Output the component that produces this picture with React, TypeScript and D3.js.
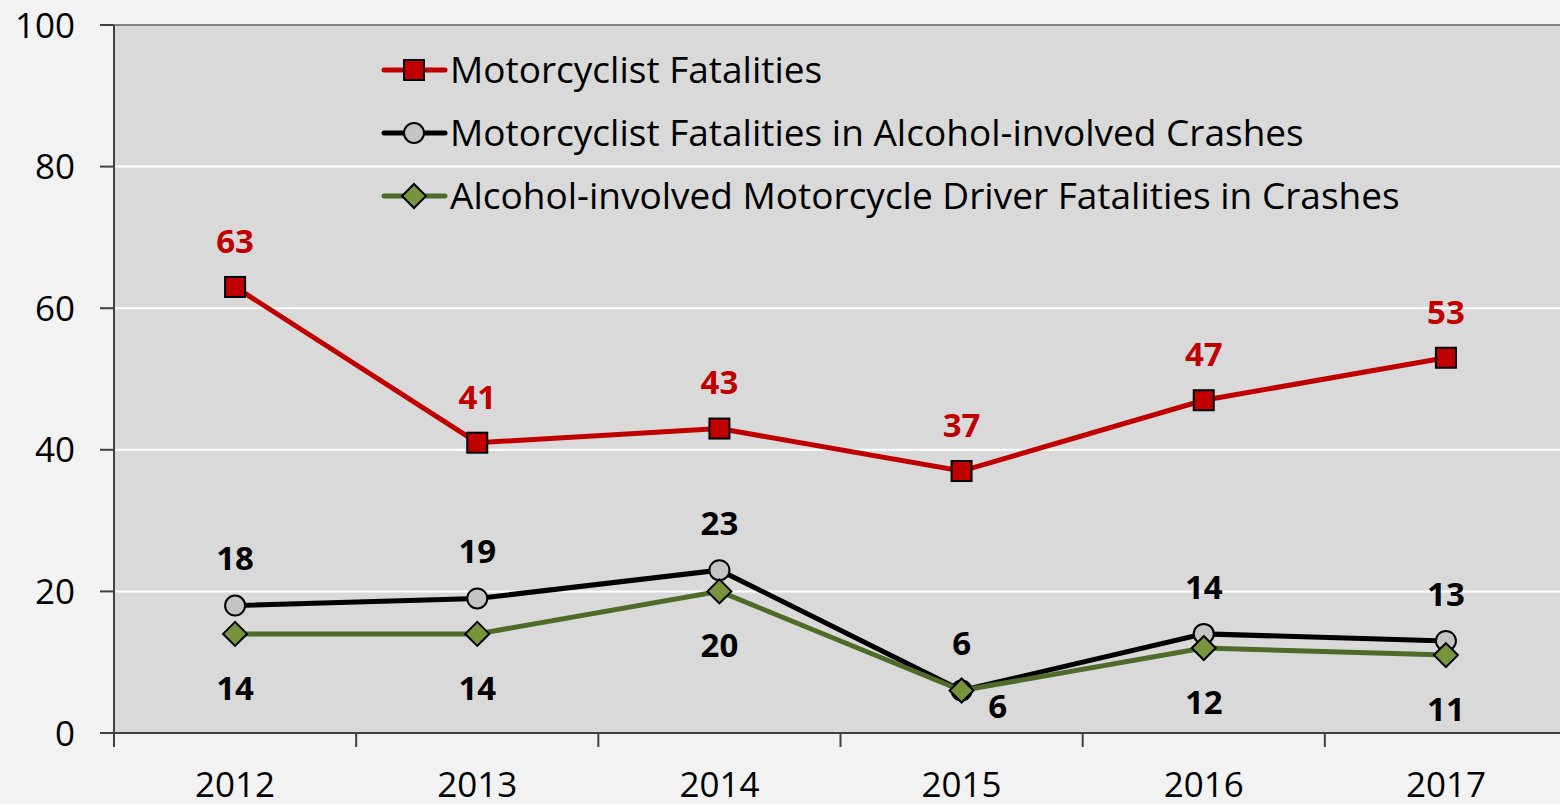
import React from "react";
import * as d3 from "d3";

const years = ["2012", "2013", "2014", "2015", "2016", "2017"];
const motorcyclist = [63, 41, 43, 37, 47, 53];
const alcoholInvolved = [18, 19, 23, 6, 14, 13];
const alcoholDriver = [14, 14, 20, 6, 12, 11];
const yTicks = [0, 20, 40, 60, 80, 100];
const legendLabels = [
  "Motorcyclist Fatalities",
  "Motorcyclist Fatalities in Alcohol-involved Crashes",
  "Alcohol-involved Motorcycle Driver Fatalities in Crashes",
];

const W = 1560, H = 804;
const left = 114, top = 25, bottom = 733, right = 1567;
const FONT = "'Open Sans', 'Noto Sans', sans-serif";

export default function App() {
  const x = d3.scaleBand<string>().domain(years).range([left, right]).padding(0);
  const y = d3.scaleLinear().domain([0, 100]).range([bottom, top]);
  const cx = (yr: string) => (x(yr) as number) + x.bandwidth() / 2;
  const line = d3.line<number>().x((_, i) => cx(years[i])).y((v) => y(v));

  const red = "#c00000";
  const green = "#4f6b2a";
  const greenFill = "#77933c";

  const square = (px: number, py: number, k: string) => (
    <rect key={k} x={px - 10} y={py - 10} width={20} height={20} fill={red} stroke="#000" strokeWidth={2} />
  );
  const circle = (px: number, py: number, k: string) => (
    <circle key={k} cx={px} cy={py} r={10} fill="#c4c4c4" stroke="#000" strokeWidth={2} />
  );
  const diamond = (px: number, py: number, k: string) => (
    <path key={k} d={`M${px},${py - 12}L${px + 12},${py}L${px},${py + 12}L${px - 12},${py}Z`} fill={greenFill} stroke="#000" strokeWidth={2} />
  );

  const legendY = [70, 133, 196];
  const legendStyles = [
    { color: red, marker: square },
    { color: "#000", marker: circle },
    { color: green, marker: diamond },
  ];

  return (
    <svg width={W} height={H} style={{ position: "absolute", left: 0, top: 0, background: "#f2f2f2" }} fontFamily={FONT}>
      <rect x={0} y={0} width={W} height={H} fill="#f2f2f2" />
      <rect x={left} y={top} width={right - left} height={bottom - top} fill="#d9d9d9" />
      <line x1={left} x2={W} y1={top} y2={top} stroke="#808080" strokeWidth={2} />
      {yTicks.filter((t) => t > 0 && t < 100).map((t) => (
        <line key={t} x1={left} x2={W} y1={y(t)} y2={y(t)} stroke="#ffffff" strokeWidth={2} />
      ))}
      {/* y axis */}
      <line x1={left} x2={left} y1={top} y2={bottom} stroke="#404040" strokeWidth={2} />
      {yTicks.map((t) => (
        <g key={t}>
          <line x1={left - 14} x2={left} y1={y(t)} y2={y(t)} stroke="#404040" strokeWidth={2} />
          <text x={75} y={y(t)} dy="0.36em" textAnchor="end" fontSize={35} fill="#000">{t}</text>
        </g>
      ))}
      {/* x axis */}
      <line x1={left} x2={W} y1={bottom} y2={bottom} stroke="#404040" strokeWidth={2} />
      {years.map((yr) => (
        <line key={yr} x1={x(yr) as number} x2={x(yr) as number} y1={bottom} y2={bottom + 14} stroke="#404040" strokeWidth={2} />
      ))}
      {years.map((yr) => (
        <text key={yr} x={cx(yr)} y={797} textAnchor="middle" fontSize={35} fill="#000">{yr}</text>
      ))}

      {/* series */}
      <path d={line(motorcyclist) as string} fill="none" stroke={red} strokeWidth={5} />
      {motorcyclist.map((v, i) => square(cx(years[i]), y(v), "s" + i))}
      <path d={line(alcoholInvolved) as string} fill="none" stroke="#000" strokeWidth={5} />
      {alcoholInvolved.map((v, i) => circle(cx(years[i]), y(v), "c" + i))}
      <path d={line(alcoholDriver) as string} fill="none" stroke={green} strokeWidth={5} />
      {alcoholDriver.map((v, i) => diamond(cx(years[i]), y(v), "d" + i))}

      {/* data labels */}
      {motorcyclist.map((v, i) => (
        <text key={"lr" + i} x={cx(years[i])} y={y(v) - 46} dy="0.36em" textAnchor="middle" fontSize={33} fontWeight="bold" fill={red}>{v}</text>
      ))}
      {alcoholInvolved.map((v, i) => (
        <text key={"lb" + i} x={cx(years[i])} y={y(v) - 47} dy="0.36em" textAnchor="middle" fontSize={33} fontWeight="bold" fill="#000">{v}</text>
      ))}
      {alcoholDriver.map((v, i) => (
        <text key={"lg" + i} x={cx(years[i]) + (i === 3 ? 36 : 0)} y={y(v) + 54 - (i === 3 ? 38 : 0)} dy="0.36em" textAnchor="middle" fontSize={33} fontWeight="bold" fill="#000">{v}</text>
      ))}

      {/* legend */}
      {legendLabels.map((lab, i) => (
        <g key={lab}>
          <line x1={384} x2={445} y1={legendY[i]} y2={legendY[i]} stroke={legendStyles[i].color} strokeWidth={5} strokeLinecap="round" />
          {legendStyles[i].marker(414, legendY[i], "lm" + i)}
          <text x={450} y={legendY[i]} dy="0.36em" fontSize={37} fill="#000">{lab}</text>
        </g>
      ))}
    </svg>
  );
}
